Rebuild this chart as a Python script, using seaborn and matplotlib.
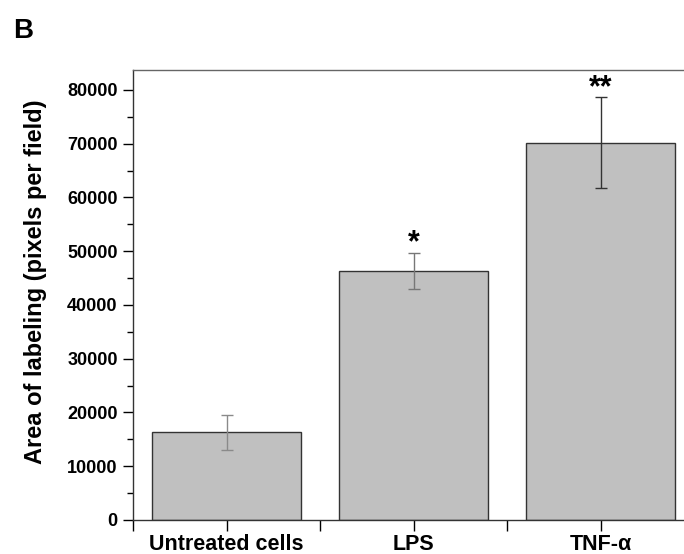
import matplotlib
matplotlib.use("Agg")
import matplotlib.pyplot as plt
import seaborn as sns
import pandas as pd
from matplotlib.ticker import MultipleLocator, FixedLocator

categories = ["Untreated cells", "LPS", "TNF-α"]
values = [16300, 46400, 70200]
errors = [3250, 3350, 8450]
stars = ["", "*", "**"]
yticks = [0, 10000, 20000, 30000, 40000, 50000, 60000, 70000, 80000]

sns.set_style("ticks")
plt.rcParams['font.family'] = ['Liberation Sans', 'DejaVu Sans']
plt.rcParams['text.color'] = 'black'
plt.rcParams['axes.labelcolor'] = 'black'
plt.rcParams['xtick.color'] = 'black'
plt.rcParams['ytick.color'] = 'black'

df = pd.DataFrame({"cat": categories, "val": values})

fig = plt.figure(figsize=(6.84, 5.54), dpi=100)
W, H = 684, 554
left, right, top, bottom = 133, 694, 70, 520
ax = fig.add_axes([left / W, (H - bottom) / H, (right - left) / W, (bottom - top) / H])

sns.barplot(data=df, x="cat", y="val", color="#c0c0c0", saturation=1,
            edgecolor="#333333", linewidth=1.0, width=0.8, errorbar=None, ax=ax)

err_colors = ["#8a8a8a", "#777777", "#333333"]
for i, (v, e) in enumerate(zip(values, errors)):
    ax.errorbar(i, v, yerr=e, fmt="none", ecolor=err_colors[i], elinewidth=1.0,
                capsize=4, capthick=1.0)
    if stars[i]:
        ax.text(i, v + e + 200, stars[i], ha="center", va="baseline",
                fontsize=22, fontweight="bold")

ax.set_xlim(-0.5, 2.5)
ax.set_ylim(0, 83700)
ax.yaxis.set_major_locator(FixedLocator(yticks))
ax.yaxis.set_minor_locator(MultipleLocator(5000))
ax.xaxis.set_minor_locator(FixedLocator([-0.5, 0.5, 1.5, 2.5]))
ax.set_yticklabels([str(t) for t in yticks], fontsize=13, fontweight="bold")
ax.set_xticks(range(len(categories)))
ax.set_xticklabels(categories, fontsize=15.5, fontweight="bold")
ax.set_xlabel("")
ax.set_ylabel("Area of labeling (pixels per field)", fontsize=17, fontweight="bold")
ax.yaxis.set_label_coords(-0.153, 0.529)

ax.tick_params(axis="y", which="major", direction="out", length=7, width=1, pad=4)
ax.tick_params(axis="y", which="minor", direction="out", length=4, width=1)
ax.tick_params(axis="x", which="both", direction="out", length=8, width=1, pad=2)

for s in ["left", "bottom", "top", "right"]:
    ax.spines[s].set_visible(True)
    ax.spines[s].set_linewidth(1.0)
    ax.spines[s].set_color("#333333")
ax.spines["top"].set_color("#666666")

fig.text(13 / W, 1 - 38 / H, "B", fontsize=20, fontweight="bold", ha="left", va="baseline")

fig.savefig("out.png", dpi=100)
